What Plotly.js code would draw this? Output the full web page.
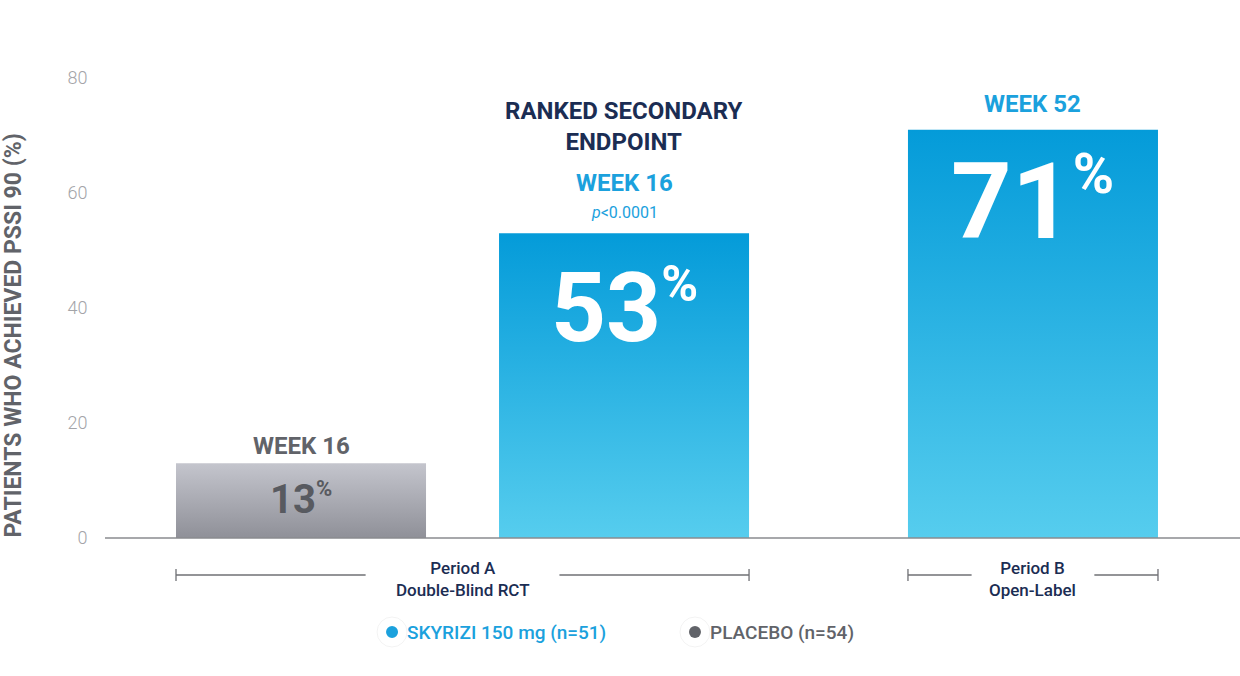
<!DOCTYPE html>
<html>
<head>
<meta charset="utf-8">
<script src="https://cdn.plot.ly/plotly-3.0.1.min.js"></script>
<style>
  html, body { margin: 0; padding: 0; background: #fff; }
  #chart { width: 1240px; height: 676px; }
</style>
</head>
<body>
<div id="chart"></div>
<script>
// data
const arms = ['PLACEBO (n=54)', 'SKYRIZI 150 mg (n=51)'];
const week16Values = [13, 53];     // Period A, double-blind RCT
const week52Arms = ['SKYRIZI 150 mg (n=51)'];
const week52Values = [71];         // Period B, open-label
const yTicks = [0, 20, 40, 60, 80];

const NAVY = '#1b2d53';
const BLUE = '#1ba1dd';
const GRAY = '#616369';
const FONT = 'Roboto, "Noto Sans", sans-serif';
const BARGAP = 0.226;
const half = (1 - BARGAP) / 2;

// x domains of the two periods (paper fractions)
const domA = [0.0304, 0.5996];
const domB = [0.6753, 0.9599];
const PLOT_H = 460;   // plot height in px, used for the placements under the axis

function plotChart(el) {

    let traceA = {
        x: arms,
        y: week16Values,
        xaxis: 'x',
        yaxis: 'y',
        type: 'bar',
        marker: {color: ['#a9abb4', '#1fa9e0']},
        hoverinfo: 'skip',
        showlegend: false
    };

    let traceB = {
        x: week52Arms,
        y: week52Values,
        xaxis: 'x2',
        yaxis: 'y',
        type: 'bar',
        marker: {color: ['#1fa9e0']},
        hoverinfo: 'skip',
        showlegend: false
    };

    // small helper for text annotations
    function txt(text, xref, x, y, yshift, size, color, weight, extra) {
        return Object.assign({
            text: text, xref: xref, x: x, yref: 'y', y: y,
            yshift: yshift, showarrow: false,
            xanchor: 'center', yanchor: 'middle',
            font: {family: FONT, size: size, color: color, weight: weight}
        }, extra || {});
    }

    const pct = (v, small) => v + '<sup><span style="font-size:' + small + 'px">%</span></sup>';

    const annotations = [
        // above the bars
        txt('WEEK 16', 'x', arms[0], week16Values[0], 17, 24, GRAY, 700),
        txt('RANKED SECONDARY<br>ENDPOINT', 'x', arms[1], week16Values[1], 107, 24, NAVY, 700),
        txt('WEEK 16', 'x', arms[1], week16Values[1], 50, 24, BLUE, 700),
        txt('<i>p</i>&lt;0.0001', 'x', arms[1], week16Values[1], 21, 16, BLUE, 400),
        txt('WEEK 52', 'x2', week52Arms[0], week52Values[0], 26, 24, BLUE, 700),
        // inside the bars
        txt(pct(week16Values[0], 22), 'x', arms[0], week16Values[0], -36, 40, '#585a60', 700),
        txt(pct(week16Values[1], 50), 'x', arms[1], week16Values[1], -75, 96, '#ffffff', 700),
        txt(pct(week52Values[0], 56), 'x2', week52Arms[0], week52Values[0], -72, 106, '#ffffff', 700),
        // period labels under the axis
        txt('Period A<br>Double-Blind RCT', 'x', 0.5, 0, -41, 17, NAVY, 500),
        txt('Period B<br>Open-Label', 'x2', 0, 0, -41, 17, NAVY, 500),
        // legend text
        txt(arms[1], 'paper', 0.2643, 0, -94, 19, BLUE, 500, {xanchor: 'left'}),
        txt(arms[0], 'paper', 0.5313, 0, -94, 19, GRAY, 500, {xanchor: 'left'}),
        // y axis title
        {
            text: 'PATIENTS WHO ACHIEVED PSSI 90 (%)',
            xref: 'paper', x: 0, xshift: -91, yref: 'paper', y: 0.44,
            textangle: -90, showarrow: false, xanchor: 'center', yanchor: 'middle',
            font: {family: FONT, size: 23, color: GRAY, weight: 700}
        }
    ];

    // bracket lines under the bars, in paper coordinates
    const toA = v => domA[0] + (v + 0.5) / 2 * (domA[1] - domA[0]);
    const toB = v => domB[0] + (v + 0.5) * (domB[1] - domB[0]);
    const py = px => -px / PLOT_H;
    const lineStyle = {color: '#6f7075', width: 1.3};
    const seg = (x0, x1) => ({type: 'line', xref: 'paper', yref: 'paper',
        x0: x0, x1: x1, y0: py(37), y1: py(37), line: lineStyle});
    const tick = x => ({type: 'line', xref: 'paper', yref: 'paper',
        x0: x, x1: x, y0: py(31), y1: py(43), line: lineStyle});
    // legend dots: white disc with a soft edge, coloured dot inside
    const disc = (x, r, fill, line) => ({type: 'circle', xref: 'paper', yref: 'paper',
        xsizemode: 'pixel', ysizemode: 'pixel', xanchor: x, yanchor: py(94),
        x0: -r, x1: r, y0: -r, y1: r, fillcolor: fill, line: line});

    const shapes = [
        {type: 'line', xref: 'paper', x0: 0, x1: 1, yref: 'paper', y0: 0, y1: 0,
         line: {color: '#8a8b8f', width: 1.5}},
        seg(toA(-half), toA(0.5 - 0.30)), seg(toA(0.5 + 0.30), toA(1 + half)),
        tick(toA(-half)), tick(toA(1 + half)),
        seg(toB(-half), toB(-0.19)), seg(toB(0.19), toB(half)),
        tick(toB(-half)), tick(toB(half)),
        disc(0.2529, 15, '#ffffff', {color: 'rgba(0,0,0,0.05)', width: 1}),
        disc(0.2529, 6, BLUE, {width: 0}),
        disc(0.5198, 15, '#ffffff', {color: 'rgba(0,0,0,0.05)', width: 1}),
        disc(0.5198, 6, GRAY, {width: 0})
    ];

    const layout = {
        width: 1240,
        height: 676,
        margin: {l: 105, r: 0, t: 78, b: 138},
        paper_bgcolor: '#ffffff',
        plot_bgcolor: '#ffffff',
        bargap: BARGAP,
        xaxis: {
            domain: domA,
            range: [-0.5, 1.5],
            type: 'category',
            showticklabels: false, showgrid: false, zeroline: false, showline: false,
            fixedrange: true
        },
        xaxis2: {
            domain: domB,
            range: [-0.5, 0.5],
            type: 'category',
            anchor: 'y',
            showticklabels: false, showgrid: false, zeroline: false, showline: false,
            fixedrange: true
        },
        yaxis: {
            range: [0, 80],
            anchor: 'free',
            position: 0,
            tickvals: yTicks,
            showgrid: false, zeroline: false, showline: false,
            ticks: 'outside', ticklen: 14, tickcolor: 'rgba(0,0,0,0)',
            tickfont: {family: FONT, size: 18, color: '#a3a4a8', weight: 300},
            fixedrange: true
        },
        annotations: annotations,
        shapes: shapes
    };

    return Plotly.newPlot(el, [traceA, traceB], layout, {staticPlot: true});
}

// vertical gradients on the bars, like the reference artwork
function addGradients(el) {
    const svg = el.querySelector('svg.main-svg');
    const ns = 'http://www.w3.org/2000/svg';
    let defs = svg.querySelector('defs');
    const grads = {
        gBlue: [['0%', '#049bd9'], ['100%', '#56cdee']],
        gGray: [['0%', '#c4c5cd'], ['100%', '#8f9098']]
    };
    for (const id in grads) {
        const g = document.createElementNS(ns, 'linearGradient');
        g.setAttribute('id', id);
        g.setAttribute('x1', '0'); g.setAttribute('y1', '0');
        g.setAttribute('x2', '0'); g.setAttribute('y2', '1');
        grads[id].forEach(([off, col]) => {
            const s = document.createElementNS(ns, 'stop');
            s.setAttribute('offset', off);
            s.setAttribute('stop-color', col);
            g.appendChild(s);
        });
        defs.appendChild(g);
    }
    el.querySelectorAll('.barlayer .point path').forEach(p => {
        const f = p.style.fill || '';
        p.style.fill = (f.indexOf('169, 171, 180') >= 0) ? 'url(#gGray)' : 'url(#gBlue)';
    });
}

const el = document.getElementById('chart');
plotChart(el).then(() => addGradients(el));
</script>
</body>
</html>
